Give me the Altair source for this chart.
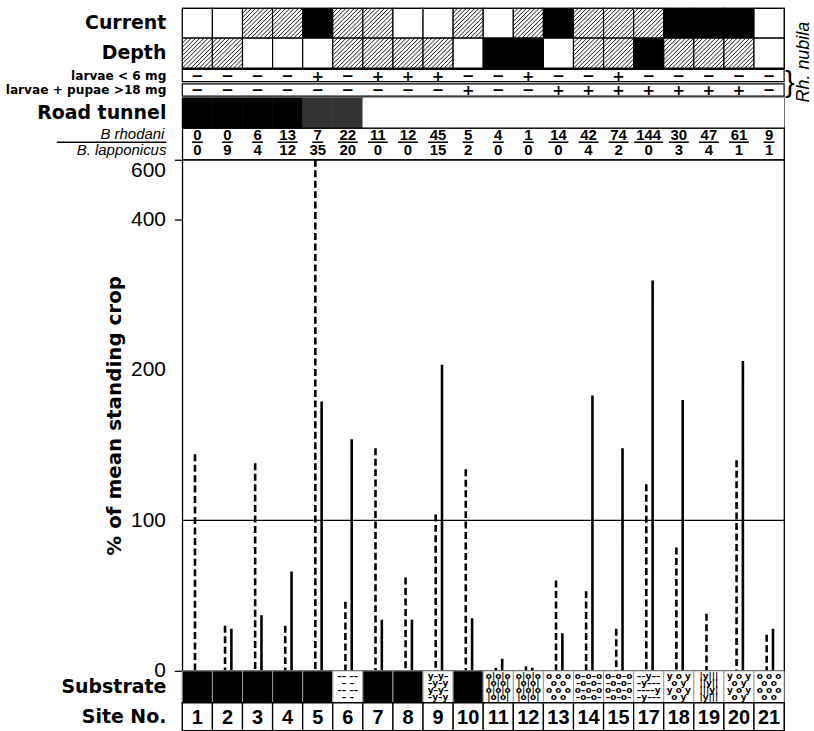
import altair as alt
import pandas as pd

# ---------------- data ----------------
site_no = [1, 2, 3, 4, 5, 6, 7, 8, 9, 10, 11, 12, 13, 14, 15, 17, 18, 19, 20, 21]
current = ["open", "open", "hatched", "hatched", "solid", "hatched", "hatched", "open", "open", "hatched",
           "open", "hatched", "solid", "hatched", "hatched", "hatched", "solid", "solid", "solid", "open"]
depth = ["hatched", "hatched", "open", "open", "open", "hatched", "hatched", "hatched", "hatched", "open",
         "solid", "solid", "open", "hatched", "hatched", "solid", "hatched", "hatched", "hatched", "open"]
larvae_lt6 = ["−", "−", "−", "−", "+", "−", "+", "+", "+", "−",
              "−", "+", "−", "−", "+", "−", "−", "−", "−", "−"]
larvae_pupae_gt18 = ["−", "−", "−", "−", "−", "−", "−", "−", "−", "+",
                     "−", "−", "+", "+", "+", "+", "+", "+", "+", "−"]
road_tunnel = ["tunnel", "tunnel", "tunnel", "tunnel", "partial", "partial", "none", "none", "none", "none",
               "none", "none", "none", "none", "none", "none", "none", "none", "none", "none"]
b_rhodani = [0, 0, 6, 13, 7, 22, 11, 12, 45, 5, 4, 1, 14, 42, 74, 144, 30, 47, 61, 9]
b_lapponicus = [0, 9, 4, 12, 35, 20, 0, 0, 15, 2, 0, 0, 0, 4, 2, 0, 3, 4, 1, 1]
pct_set1 = [144, 30, 138, 30, 600, 46, 148, 62, 104, 134, 2, 3, 60, 53, 28, 124, 82, 38, 140, 24]
pct_set2 = [0, 28, 37, 66, 179, 154, 34, 34, 207, 35, 8, 2, 25, 183, 148, 319, 180, 0, 212, 28]
substrate = ["stone", "stone", "stone", "stone", "stone", "silt", "stone", "stone", "detritus_silt", "stone",
             "gravel_roots", "gravel_roots", "gravel", "gravel_silt", "gravel_silt", "silt_detritus",
             "moss_gravel", "moss", "moss_gravel", "gravel"]
y_ticks = [0, 100, 200, 400, 600]

# ---------------- styles ----------------
W = 604
BIG = dict(font="DejaVu Sans", fontWeight="bold", fontSize=19, align="right", baseline="middle")
SMALL = dict(font="DejaVu Sans", fontWeight="bold", fontSize=12.2, align="right", baseline="middle")
pattern_glyphs = {
    "silt": "–– ––\n – – \n–– ––\n – – ",
    "detritus_silt": "y–y–\n–y–y\ny–y–\n–y–y",
    "gravel_roots": "o|o|o\n|o|o|\no|o|o\n|o|o|",
    "gravel": "o o o\n o o \no o o\n o o ",
    "gravel_silt": "o–o–o\n–o–o–\no–o–o\n–o–o–",
    "silt_detritus": "––y––\n–y–––\n––––y\n–y–––",
    "moss_gravel": "y o y\n o y \ny o y\n o y ",
    "moss": "|y|||\n||y||\n|||y|\n|y|||",
    "stone": "",
}

idx = list(range(len(site_no)))
sites = pd.DataFrame({
    "i": idx, "site": site_no, "current": current, "depth": depth,
    "lt6": larvae_lt6, "gt18": larvae_pupae_gt18, "tunnel": road_tunnel,
    "rhod": b_rhodani, "lapp": b_lapponicus, "substrate": substrate,
    "glyph": [pattern_glyphs[s] for s in substrate],
})
one = alt.Data(values=[{"k": 0}])


def xs():
    return alt.Scale(domain=[0, 20], nice=False, zero=False)


def label(text, y, scale, style, dx=-16, **kw):
    return alt.Chart(one).mark_text(text=text, **{**style, **kw}).encode(
        x=alt.value(dx), y=alt.Y(datum=y, scale=scale, axis=None))


# ---------------- Panel A: Current / Depth ----------------
ysA = alt.Scale(domain=[0, 2], nice=False, zero=False)
cellsA = pd.concat([
    pd.DataFrame({"i": idx, "row": "Current", "state": current}),
    pd.DataFrame({"i": idx, "row": "Depth", "state": depth}),
])
baseA = alt.Chart(cellsA).transform_calculate(
    base="datum.row === 'Current' ? 1 : 0")
rectA = baseA.transform_calculate(x1="datum.i + 1", y1="datum.base + 1").mark_rect(
    stroke="black", strokeWidth=1.2).encode(
    x=alt.X("i:Q", scale=xs(), axis=None), x2="x1:Q",
    y=alt.Y("base:Q", scale=ysA, axis=None), y2="y1:Q",
    fill=alt.condition("datum.state === 'solid'", alt.value("black"), alt.value("white")))
hatch = baseA.transform_filter("datum.state === 'hatched'").transform_calculate(
    c="[-0.84,-0.7,-0.56,-0.42,-0.28,-0.14,0,0.14,0.28,0.42,0.56,0.7,0.84]"
).transform_flatten(["c"]).transform_calculate(
    hx1="datum.i + max(datum.c, 0)", hy1="datum.base + max(-datum.c, 0)",
    hx2="datum.i + 1 + min(datum.c, 0)", hy2="datum.base + 1 - max(datum.c, 0)"
).mark_rule(strokeWidth=0.9, color="black").encode(
    x=alt.X("hx1:Q", scale=xs(), axis=None), x2="hx2:Q",
    y=alt.Y("hy1:Q", scale=ysA, axis=None), y2="hy2:Q")
panelA = alt.layer(rectA, hatch, label("Current", 1.5, ysA, BIG), label("Depth", 0.5, ysA, BIG)
                   ).properties(width=W, height=60)

# ---------------- Panel B: larvae rows ----------------
ysB = alt.Scale(domain=[0, 2], nice=False, zero=False)
signs = pd.concat([
    pd.DataFrame({"i": idx, "row": "lt6", "sign": larvae_lt6}),
    pd.DataFrame({"i": idx, "row": "gt18", "sign": larvae_pupae_gt18}),
])
boxB = alt.Chart(pd.DataFrame({"row": ["lt6", "gt18"]})).transform_calculate(
    y0="datum.row === 'lt6' ? 1.1 : 0.12", y1="datum.row === 'lt6' ? 1.92 : 0.95"
).mark_rect(fill="white", stroke="black", strokeWidth=1.2).encode(
    x=alt.X(datum=0, scale=xs(), axis=None), x2=alt.datum(20),
    y=alt.Y("y0:Q", scale=ysB, axis=None), y2="y1:Q")
signB = alt.Chart(signs).transform_calculate(
    xc="datum.i + 0.5", yc="datum.row === 'lt6' ? 1.5 : 0.52"
).mark_text(font="DejaVu Sans", fontWeight="bold", fontSize=15, baseline="middle").encode(
    x=alt.X("xc:Q", scale=xs(), axis=None), y=alt.Y("yc:Q", scale=ysB, axis=None), text="sign:N")
brace = alt.Chart(one).mark_text(text="}", font="Liberation Sans", fontSize=29,
                                 baseline="middle", align="left").encode(
    x=alt.value(W + 1), y=alt.value(15))
nubila = alt.Chart(one).mark_text(text="Rh. nubila", font="Liberation Sans", fontStyle="italic",
                                  fontSize=18, angle=270, baseline="middle", align="center").encode(
    x=alt.value(W + 20), y=alt.value(-6))
panelB = alt.layer(boxB, signB, label("larvae < 6 mg", 1.5, ysB, SMALL),
                   label("larvae + pupae >18 mg", 0.52, ysB, SMALL), brace, nubila
                   ).properties(width=W, height=30, view=alt.ViewBackground(stroke="transparent"))

# ---------------- Panel C: Road tunnel ----------------
ysC = alt.Scale(domain=[0, 1], nice=False, zero=False)
tunnel_color = "datum.tunnel === 'tunnel' ? 'black' : (datum.tunnel === 'partial' ? '#333333' : 'white')"
rectC = alt.Chart(sites).transform_calculate(x1="datum.i + 1", col=tunnel_color).mark_rect(
    strokeWidth=0.6).encode(
    x=alt.X("i:Q", scale=xs(), axis=None), x2="x1:Q",
    y=alt.Y(datum=0, scale=ysC, axis=None), y2=alt.datum(1),
    fill=alt.Fill("col:N", scale=None), stroke=alt.Stroke("col:N", scale=None))
panelC = alt.layer(rectC, label("Road tunnel", 0.5, ysC, BIG)).properties(width=W, height=30)

# ---------------- Panel D: fractions ----------------
ysD = alt.Scale(domain=[0, 1], nice=False, zero=False)
baseD = alt.Chart(sites).transform_calculate(
    xc="datum.i + 0.5", hw="0.03 + 0.15 * length(toString(datum.rhod))",
    xa="datum.i + 0.5 - datum.hw", xb="datum.i + 0.5 + datum.hw")
FR = dict(font="Liberation Sans", fontWeight="bold", fontSize=15, baseline="middle")
numD = baseD.mark_text(**FR).encode(x=alt.X("xc:Q", scale=xs(), axis=None),
                                    y=alt.Y(datum=0.77, scale=ysD, axis=None), text="rhod:Q")
denD = baseD.mark_text(**FR).encode(x=alt.X("xc:Q", scale=xs(), axis=None),
                                    y=alt.Y(datum=0.3, scale=ysD, axis=None), text="lapp:Q")
barD = baseD.mark_rule(strokeWidth=1.6, color="black").encode(
    x=alt.X("xa:Q", scale=xs(), axis=None), x2="xb:Q", y=alt.Y(datum=0.55, scale=ysD, axis=None))
ITAL = dict(font="Liberation Sans", fontStyle="italic", fontSize=15, align="right", baseline="middle")
fracline = alt.Chart(one).mark_rule(strokeWidth=1.3, color="black").encode(
    x=alt.value(-126), x2=alt.value(-16), y=alt.Y(datum=0.55, scale=ysD, axis=None))
panelD = alt.layer(numD, denD, barD, label("B rhodani", 0.8, ysD, ITAL, dx=-18),
                   label("B. lapponicus", 0.3, ysD, ITAL), fracline).properties(width=W, height=32)

# ---------------- Panel E: main plot ----------------
bars = pd.concat([
    pd.DataFrame({"i": idx, "set": "set 1", "pct": pct_set1}),
    pd.DataFrame({"i": idx, "set": "set 2", "pct": pct_set2}),
])
ysE = alt.Scale(domain=[0, 200, 400, 600], range=[513, 211, 60, 0], nice=False, zero=False)
barsE = alt.Chart(bars).transform_filter("datum.pct > 0").transform_calculate(
    xc="datum.i + (datum.set === 'set 1' ? 0.42 : 0.63)"
).mark_rule(strokeWidth=2.6, color="black").encode(
    x=alt.X("xc:Q", scale=xs(), axis=None),
    y=alt.Y("pct:Q", scale=ysE,
            axis=alt.Axis(values=y_ticks, title="% of mean standing crop", grid=False, domain=False,
                          tickSize=8, tickWidth=1.3, tickColor="black",
                          tickOpacity={"condition": {"test": "datum.value === 100 || datum.value === 200",
                                                     "value": 0}, "value": 1},
                          labelBaseline={"condition": {"test": "datum.value === 600", "value": "top"},
                                         "value": "middle"},
                          labelFlush=False,
                          labelFont="Liberation Sans", labelFontSize=21, labelColor="black",
                          labelPadding=9, titleFont="DejaVu Sans", titleFontWeight="bold",
                          titleFontSize=20, titleColor="black", titlePadding=6)),
    y2=alt.datum(0),
    strokeDash=alt.StrokeDash("set:N", scale=alt.Scale(domain=["set 1", "set 2"],
                                                       range=[[7, 3.5], [1, 0]]), legend=None))
ref100 = alt.Chart(one).mark_rule(strokeWidth=1.2, color="black").encode(
    y=alt.Y(datum=100, scale=ysE), x=alt.value(0), x2=alt.value(W))
panelE = alt.layer(barsE, ref100).properties(width=W, height=513)

# ---------------- Panel F: substrate ----------------
ysF = alt.Scale(domain=[0, 1], nice=False, zero=False)
rectF = alt.Chart(sites).transform_calculate(x1="datum.i + 1").mark_rect(
    stroke="#9a9a9a", strokeWidth=1).encode(
    x=alt.X("i:Q", scale=xs(), axis=None), x2="x1:Q",
    y=alt.Y(datum=0, scale=ysF, axis=None), y2=alt.datum(1),
    fill=alt.condition("datum.substrate === 'stone'", alt.value("black"), alt.value("white")))
glyphF = alt.Chart(sites).transform_filter("datum.substrate !== 'stone'").transform_calculate(
    xc="datum.i + 0.5").mark_text(font="DejaVu Sans", fontSize=9, fontWeight="bold", lineHeight=7,
                                  lineBreak="\n", baseline="top").encode(
    x=alt.X("xc:Q", scale=xs(), axis=None), y=alt.Y(datum=0.97, scale=ysF, axis=None), text="glyph:N")
panelF = alt.layer(rectF, glyphF, label("Substrate", 0.5, ysF, BIG)).properties(width=W, height=32)

# ---------------- Panel G: site numbers ----------------
ysG = alt.Scale(domain=[0, 1], nice=False, zero=False)
rectG = alt.Chart(sites).transform_calculate(x1="datum.i + 1").mark_rect(
    fill="white", stroke="black", strokeWidth=1.3).encode(
    x=alt.X("i:Q", scale=xs(), axis=None), x2="x1:Q",
    y=alt.Y(datum=0, scale=ysG, axis=None), y2=alt.datum(1))
textG = alt.Chart(sites).transform_calculate(xc="datum.i + 0.5").mark_text(
    font="Liberation Sans", fontWeight="bold", fontSize=20, baseline="middle").encode(
    x=alt.X("xc:Q", scale=xs(), axis=None), y=alt.Y(datum=0.47, scale=ysG, axis=None), text="site:N")
panelG = alt.layer(rectG, textG, label("Site No.", 0.5, ysG, BIG)).properties(width=W, height=28)

chart = alt.vconcat(panelA, panelB, panelC, panelD, panelE, panelF, panelG, spacing=0,
                    bounds="flush").resolve_scale(
    fill="independent", stroke="independent", strokeDash="independent", y="independent"
).properties(
    padding={"left": 5, "top": 5, "right": 0, "bottom": 0}
).configure_view(stroke="black", strokeWidth=1.3)

chart.save("out.html", embed_options={"renderer": "svg", "actions": False})
